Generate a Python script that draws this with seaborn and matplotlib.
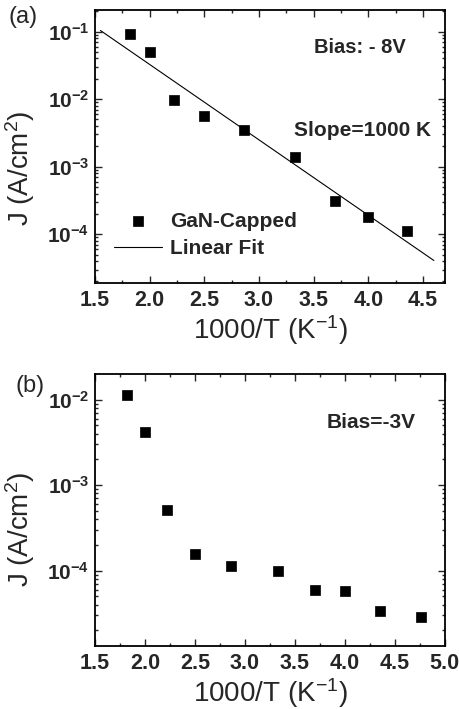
import numpy as np
import pandas as pd
import matplotlib
matplotlib.use("Agg")
import matplotlib.pyplot as plt
from matplotlib.ticker import LogLocator, MultipleLocator, NullFormatter, LogFormatterMathtext
import seaborn as sns

# ---- data ----
x_a = [1.82, 2.00, 2.22, 2.50, 2.86, 3.33, 3.70, 4.00, 4.35]
j_a = [0.091, 0.0495, 0.0096, 0.0057, 0.0035, 0.00139, 3.1e-4, 1.8e-4, 1.12e-4]
fit_range = [1.55, 4.60]
fit_intercept = 0.745   # log10 J at 1000/T = 0
fit_slope = -1.116      # decades per unit of 1000/T

x_b = [1.82, 2.00, 2.22, 2.50, 2.86, 3.33, 3.70, 4.00, 4.35, 4.76]
j_b = [0.0114, 0.0042, 5.1e-4, 1.57e-4, 1.15e-4, 9.8e-5, 5.9e-5, 5.8e-5, 3.4e-5, 2.9e-5]

xticks_a = [1.5, 2.0, 2.5, 3.0, 3.5, 4.0, 4.5]
xticks_b = [1.5, 2.0, 2.5, 3.0, 3.5, 4.0, 4.5, 5.0]

sns.set_style("ticks")
plt.rcParams['font.family'] = ['Liberation Sans', 'DejaVu Sans']
plt.rcParams['mathtext.fontset'] = 'custom'
plt.rcParams['mathtext.rm'] = 'Liberation Sans'
plt.rcParams['mathtext.it'] = 'Liberation Sans'
plt.rcParams['mathtext.bf'] = 'Liberation Sans:bold'

fig = plt.figure(figsize=(4.6, 7.09), dpi=100)
ax1 = fig.add_axes([0.2065, 0.601, 0.7605, 0.385])
ax2 = fig.add_axes([0.2065, 0.0889, 0.7605, 0.3836])

df_a = pd.DataFrame({"x": x_a, "J": j_a})
df_b = pd.DataFrame({"x": x_b, "J": j_b})
xf = np.array(fit_range)
df_fit = pd.DataFrame({"x": xf, "J": 10 ** (fit_intercept + fit_slope * xf)})

sns.lineplot(data=df_fit, x="x", y="J", ax=ax1, color="black", lw=0.8, label="Linear Fit")
sns.scatterplot(data=df_a, x="x", y="J", ax=ax1, marker="s", s=62, color="black",
                edgecolor="black", linewidth=0.5, label="GaN-Capped")
sns.scatterplot(data=df_b, x="x", y="J", ax=ax2, marker="s", s=48, color="black",
                edgecolor="black", linewidth=0.5)

for ax, xlim, ylim, xt in [(ax1, (1.5, 4.7), (10**-4.72, 10**-0.68), xticks_a),
                           (ax2, (1.5, 5.0), (10**-4.88, 10**-1.70), xticks_b)]:
    ax.set_yscale("log")
    ax.set_xlim(*xlim)
    ax.set_ylim(*ylim)
    ax.set_xticks(xt)
    ax.set_xticklabels([f"{v:.1f}" for v in xt])
    ax.xaxis.set_minor_locator(MultipleLocator(0.25))
    ax.yaxis.set_major_locator(LogLocator(base=10, numticks=10))
    ax.yaxis.set_major_formatter(LogFormatterMathtext())
    ax.yaxis.set_minor_locator(LogLocator(base=10, subs=np.arange(2, 10), numticks=20))
    ax.yaxis.set_minor_formatter(NullFormatter())
    ax.tick_params(which="both", direction="in", top=True, right=True, width=1.0)
    ax.tick_params(axis="x", which="major", length=5, labelsize=15.5, pad=5)
    ax.tick_params(axis="y", which="major", length=5, labelsize=15, pad=4)
    ax.tick_params(which="minor", length=2.5)
    for lab in ax.get_xticklabels() + ax.get_yticklabels():
        lab.set_fontweight("bold")
    for sp in ax.spines.values():
        sp.set_linewidth(1.3)
        sp.set_color("black")
    ax.set_ylabel("J (A/cm$^2$)", fontsize=20)
    ax.set_xlabel("1000/T (K$^{-1}$)", fontsize=20, labelpad=2)

ax1.yaxis.set_label_coords(-0.165, 0.42)
ax2.yaxis.set_label_coords(-0.165, 0.43)

# legend
h, l = ax1.get_legend_handles_labels()
order = [l.index("GaN-Capped"), l.index("Linear Fit")]
leg = ax1.legend([h[i] for i in order], [l[i] for i in order], loc="lower left",
                 bbox_to_anchor=(0.03, 0.06), frameon=False, fontsize=15,
                 handlelength=2.3, handletextpad=0.4, labelspacing=0.4, borderaxespad=0)
for t in leg.get_texts():
    t.set_fontweight("bold")

ax1.text(0.757, 0.864, "Bias: - 8V", transform=ax1.transAxes, ha="center", va="center",
         fontsize=14.5, fontweight="bold")
ax1.text(0.766, 0.56, "Slope=1000 K", transform=ax1.transAxes, ha="center", va="center",
         fontsize=15, fontweight="bold")
ax2.text(0.79, 0.82, "Bias=-3V", transform=ax2.transAxes, ha="center", va="center",
         fontsize=15, fontweight="bold")

fig.text(0.05, 0.976, "(a)", fontsize=17, ha="center", va="center")
fig.text(0.066, 0.455, "(b)", fontsize=17, ha="center", va="center")

fig.savefig("out.png", dpi=100)
